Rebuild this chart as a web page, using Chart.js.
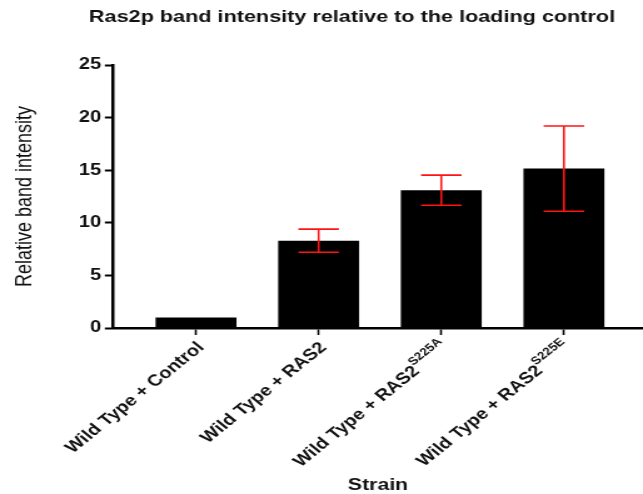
<!DOCTYPE html>
<html>
<head>
<meta charset="utf-8">
<script src="https://cdn.jsdelivr.net/npm/chart.js@4.4.0/dist/chart.umd.min.js"></script>
<style>
  html, body { margin: 0; padding: 0; background: #fff; overflow: hidden; }
  /* the original figure is stretched sideways, so draw narrower and widen it */
  #wrap { width: 514px; height: 494px; transform: scale(1.251, 1); transform-origin: 0 0; }
</style>
</head>
<body>
<div id="wrap"><canvas id="myChart" width="514" height="494"></canvas></div>
<script>
const chartTitle = 'Ras2p band intensity relative to the loading control';
const strainNames = ['Wild Type + Control', 'Wild Type + RAS2', 'Wild Type + RAS2', 'Wild Type + RAS2'];
const strainSup = ['', '', 'S225A', 'S225E'];
const intensity = [1.0, 8.3, 13.1, 15.15];
const errorSD = [0, 1.1, 1.43, 4.05];
const yTicks = [0, 5, 10, 15, 20, 25];

const FONT = "'Liberation Sans', Arial, sans-serif";

// red error bars on top of the bars
const errorBars = {
    id: 'errorBars',
    afterDatasetsDraw(chart) {
        const ctx = chart.ctx;
        const y = chart.scales.y;
        const meta = chart.getDatasetMeta(0);
        ctx.save();
        ctx.strokeStyle = '#ff1414';
        ctx.lineWidth = 1.6;
        meta.data.forEach((bar, i) => {
            if (!errorSD[i]) return;
            const top = y.getPixelForValue(intensity[i] + errorSD[i]);
            const bot = y.getPixelForValue(intensity[i] - errorSD[i]);
            const half = bar.width * 0.25;
            ctx.beginPath();
            ctx.moveTo(bar.x, top); ctx.lineTo(bar.x, bot);
            ctx.moveTo(bar.x - half, top); ctx.lineTo(bar.x + half, top);
            ctx.moveTo(bar.x - half, bot); ctx.lineTo(bar.x + half, bot);
            ctx.stroke();
        });
        ctx.restore();
    }
};

// title + rotated category labels with superscripts
const textBits = {
    id: 'textBits',
    afterDraw(chart) {
        const ctx = chart.ctx;
        const x = chart.scales.x;
        const area = chart.chartArea;
        ctx.save();
        ctx.fillStyle = '#111';
        ctx.font = 'bold 17.3px ' + FONT;
        ctx.textAlign = 'center';
        ctx.textBaseline = 'middle';
        ctx.fillText(chartTitle, 281.4, 17);

        strainNames.forEach((name, i) => {
            const px = x.getPixelForValue(i);
            ctx.save();
            ctx.translate(px + 4, area.bottom + 17);
            ctx.rotate(-Math.PI / 4);
            ctx.textAlign = 'left';
            ctx.textBaseline = 'middle';
            ctx.font = 'bold 11px ' + FONT;
            const supW = strainSup[i] ? ctx.measureText(strainSup[i]).width : 0;
            ctx.font = 'bold 16px ' + FONT;
            const mainW = ctx.measureText(name).width;
            ctx.fillText(name, -(mainW + supW), 0);
            if (supW) {
                ctx.font = 'bold 11px ' + FONT;
                ctx.fillText(strainSup[i], -supW, -7);
            }
            ctx.restore();
        });
        ctx.restore();
    }
};

const ctx = document.getElementById('myChart').getContext('2d');
const bandChart = new Chart(ctx, {
    type: 'bar',
    data: {
        datasets: [{
            label: 'Relative band intensity',
            data: intensity.map((v, i) => ({ x: i, y: v })),
            backgroundColor: '#000',
            borderWidth: 0,
            barPercentage: 0.66,
            categoryPercentage: 1
        }]
    },
    options: {
        responsive: false,
        animation: false,
        devicePixelRatio: 1,
        layout: { padding: { top: 65, right: 0, bottom: 0, left: 0 } },
        plugins: {
            legend: { display: false },
            tooltip: { enabled: false },
            title: { display: false }
        },
        scales: {
            x: {
                type: 'linear',
                offset: false,
                min: -0.677,
                max: 3.645,
                afterBuildTicks: (s) => { s.ticks = strainNames.map((n, i) => ({ value: i })); },
                afterFit: (s) => { s.height = 166; },
                ticks: { display: false },
                grid: { offset: false, drawOnChartArea: false, drawTicks: true, tickLength: 7, tickWidth: 1.6, tickColor: '#000' },
                border: { color: '#000', width: 2.5 },
                title: {
                    display: true,
                    text: 'Strain',
                    color: '#111',
                    font: { family: FONT, size: 17, weight: 'bold', lineHeight: 1 },
                    padding: { top: 0, bottom: 0 }
                }
            },
            y: {
                min: 0,
                max: 25,
                afterBuildTicks: (s) => { s.ticks = yTicks.map(v => ({ value: v })); },
                afterFit: (s) => { s.width = 90.3; },
                ticks: {
                    color: '#111',
                    padding: 3,
                    font: { family: FONT, size: 16, weight: 'bold' }
                },
                grid: { drawOnChartArea: false, drawTicks: true, tickLength: 6.5, tickWidth: 2, tickColor: '#000' },
                border: { color: '#000', width: 2.5 },
                title: {
                    display: true,
                    text: 'Relative band intensity',
                    color: '#111',
                    font: { family: FONT, size: 18, weight: 'normal', lineHeight: 1.2 },
                    padding: { top: 9, bottom: 0 }
                }
            }
        }
    },
    plugins: [errorBars, textBits]
});
</script>
</body>
</html>
